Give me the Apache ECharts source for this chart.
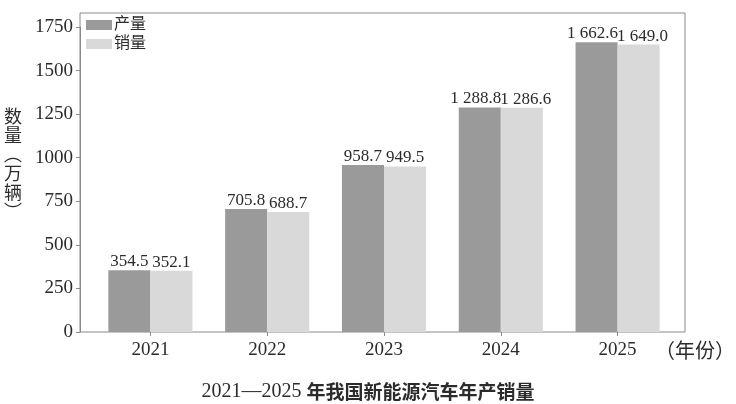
<!DOCTYPE html>
<html>
<head>
<meta charset="utf-8">
<script src="https://cdn.jsdelivr.net/npm/echarts@6/dist/echarts.min.js"></script>
<style>
  html, body { margin: 0; padding: 0; background: #fff; }
  #chart { width: 736px; height: 404px; }
</style>
</head>
<body>
<div id="chart"></div>
<script>
// data
const years = ['2021', '2022', '2023', '2024', '2025'];
const production = [354.5, 705.8, 958.7, 1288.8, 1662.6];
const sales = [352.1, 688.7, 949.5, 1286.6, 1649.0];
const yTicks = [0, 250, 500, 750, 1000, 1250, 1500, 1750];

const SERIF = '"Liberation Serif", "Noto Sans CJK SC", serif';
const TEXT = '#2b2b2b';
const LINE = '#8a8a8a';

// 1 662.6 style numbers
function fmt(v) {
    const s = v.toFixed(1);
    const parts = s.split('.');
    const int = parts[0].replace(/\B(?=(\d{3})+(?!\d))/g, ' ');
    return int + '.' + parts[1];
}

// wide labels get pushed apart a bit so the pair doesn't collide
function withLabelShift(values, dx) {
    return values.map(v => v >= 1000 ? { value: v, label: { offset: [dx, 0] } } : v);
}

function barLabel() {
    return {
        show: true,
        position: 'top',
        distance: 0,
        fontFamily: SERIF,
        fontSize: 17,
        color: TEXT,
        formatter: p => fmt(p.value)
    };
}

const chart = echarts.init(document.getElementById('chart'));

chart.setOption({
    animation: false,
    backgroundColor: '#fff',
    title: {
        text: '{a|2021—2025 }{b|年我国新能源汽车年产销量}',
        left: 'center',
        top: 377,
        textStyle: {
            rich: {
                a: { fontFamily: SERIF, fontSize: 20, fontWeight: 'normal', color: TEXT },
                b: { fontFamily: '"Noto Sans CJK SC", sans-serif', fontSize: 19, fontWeight: 'bold', color: TEXT }
            }
        }
    },
    legend: {
        orient: 'vertical',
        left: 86,
        top: 17,
        padding: 0,
        itemWidth: 26,
        itemHeight: 10,
        itemGap: 3,
        icon: 'rect',
        textStyle: { fontFamily: SERIF, fontSize: 16, color: TEXT, padding: [0, 0, 0, -3] },
        data: ['产量', '销量']
    },
    graphic: [
        {
            type: 'rect',
            shape: { x: 80, y: 13, width: 605, height: 319 },
            style: { fill: null, stroke: LINE, lineWidth: 1 },
            silent: true
        },
        {
            type: 'text',
            x: 13,
            y: 164,
            style: {
                text: '数\n量\n︵\n万\n辆\n︶',
                fontFamily: '"Noto Sans CJK SC", sans-serif',
                fontSize: 18,
                lineHeight: 19,
                fill: TEXT,
                align: 'center',
                verticalAlign: 'middle'
            }
        },
        {
            type: 'text',
            x: 655,
            y: 350,
            style: {
                text: '（年份）',
                fontFamily: '"Noto Sans CJK SC", sans-serif',
                fontSize: 20,
                fill: TEXT,
                verticalAlign: 'middle'
            }
        }
    ],
    grid: { left: 92, right: 60, top: 27, bottom: 72 },
    xAxis: {
        type: 'category',
        data: years,
        axisLine: { show: false },
        axisTick: { show: true, alignWithLabel: true, length: 4, lineStyle: { color: LINE } },
        axisLabel: { fontFamily: SERIF, fontSize: 19, color: TEXT, margin: 9 }
    },
    yAxis: {
        type: 'value',
        min: yTicks[0],
        max: yTicks[yTicks.length - 1],
        interval: 250,
        offset: 12,
        axisLine: { show: true, lineStyle: { color: LINE } },
        axisTick: { show: true, length: 4, lineStyle: { color: LINE } },
        splitLine: { show: false },
        axisLabel: {
            fontFamily: SERIF, fontSize: 19, color: TEXT, margin: 7,
            formatter: v => String(v)
        }
    },
    series: [
        {
            name: '产量',
            type: 'bar',
            data: withLabelShift(production, -4),
            barGap: '0%',
            barCategoryGap: '28%',
            itemStyle: { color: '#9a9a9a' },
            label: barLabel()
        },
        {
            name: '销量',
            type: 'bar',
            data: withLabelShift(sales, 4),
            itemStyle: { color: '#d9d9d9' },
            label: barLabel()
        }
    ]
});
</script>
</body>
</html>
